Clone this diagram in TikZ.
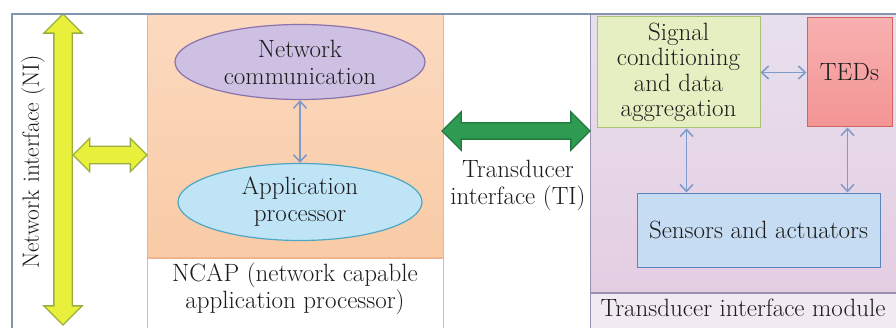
\documentclass[tikz,border=0pt]{standalone}
\usepackage{xcolor}
\usepackage{tikz}
\usetikzlibrary{shapes.geometric, shapes.arrows, arrows.meta}
\usetikzlibrary{calc,positioning}

\definecolor{framec}{HTML}{8494AC}
\definecolor{textc}{HTML}{1C1C1C}
\definecolor{peachtop}{HTML}{FCD9BF}
\definecolor{peachbot}{HTML}{F9CBA6}
\definecolor{peachline}{HTML}{F0B48C}
\definecolor{ncfill}{HTML}{CEC0E2}
\definecolor{ncline}{HTML}{8A72AE}
\definecolor{apfill}{HTML}{BEE4F6}
\definecolor{apline}{HTML}{4FA6C4}
\definecolor{niyellow}{HTML}{E8F03C}
\definecolor{niolive}{HTML}{9AAE40}
\definecolor{tigreen}{HTML}{2E9A52}
\definecolor{tidark}{HTML}{22783E}
\definecolor{timtop}{HTML}{E8E0EE}
\definecolor{timbot}{HTML}{E4CDE2}
\definecolor{timline}{HTML}{9C90B2}
\definecolor{timstrip}{HTML}{F2EAF2}
\definecolor{sigfill}{HTML}{E6EFC2}
\definecolor{sigline}{HTML}{AAC276}
\definecolor{tedtop}{HTML}{F8B0B0}
\definecolor{tedbot}{HTML}{F39494}
\definecolor{tedline}{HTML}{D06464}
\definecolor{senfill}{HTML}{C6DCF2}
\definecolor{senline}{HTML}{5A84BC}
\definecolor{linkc}{HTML}{7E9CCA}

\tikzset{
    txt/.style={font=\fontsize{25}{27}\selectfont, text=textc, align=center},
    box/.style={rectangle, inner sep=0pt, line width=1pt},
    ell/.style={ellipse, inner sep=0pt, line width=1.2pt, txt},
    link/.style={draw=linkc, line width=1.6pt,
        {Straight Barb[length=7pt,width=13pt]}-{Straight Barb[length=7pt,width=13pt]}},
    bigarrow/.style={double arrow, draw, line width=1.4pt, inner xsep=0pt},
}

\begin{document}
\begin{tikzpicture}[x=1pt,y=1pt]

    \useasboundingbox (0,0) rectangle (896,327);
    \clip (0,0) rectangle (896,327);

    % NCAP
    \node[box, draw=peachline, top color=peachtop, bottom color=peachbot,
        minimum width=296pt, minimum height=243pt] (ncap) at (295,191.5) {};
    \node[box, draw=peachline, fill=white, anchor=north,
        minimum width=296pt, minimum height=80pt] (ncapl) at (ncap.south) {};
    \node[txt] (ncapt) at ($(ncapl.north)+(0,-31)$) {NCAP (network capable\\application processor)};

    \node[ell, draw=ncline, fill=ncfill, minimum width=250pt, minimum height=75pt]
        (nc) at (300,265) {Network\\communication};
    \node[ell, draw=apline, fill=apfill, minimum width=244pt, minimum height=77pt]
        (ap) at (300,125) {Application\\processor};
    \draw[link] (nc) -- (ap);

    % Transducer interface module
    \node[box, draw=timline, top color=timtop, bottom color=timbot,
        minimum width=306pt, minimum height=278pt] (tim) at (743,174) {};
    \node[box, draw=timline, fill=timstrip, anchor=north,
        minimum width=306pt, minimum height=40pt] (tims) at (tim.south) {};
    \node[txt] (timt) at ($(tim.south)+(0,-15)$) {Transducer interface module};

    \node[box, draw=sigline, fill=sigfill, minimum width=163pt, minimum height=111pt,
        txt, font=\fontsize{25}{25.5}\selectfont] (sig) at (678.5,254.5)
        {Signal\\conditioning\\and data\\aggregation};
    \node[box, draw=tedline, top color=tedtop, bottom color=tedbot,
        minimum width=85pt, minimum height=109pt, txt] (ted) at (849.5,254.5) {TEDs};
    \node[box, draw=senline, fill=senfill, minimum width=243pt, minimum height=74pt,
        txt] (sen) at (758.5,97) {Sensors and actuators};

    \draw[link] (sig) -- (ted);
    \draw[link] ([xshift=8pt]sig.south) -- ([xshift=8pt]sig.south |- sen.north);
    \draw[link] ([xshift=-2pt]ted.south) -- ([xshift=-2pt]ted.south |- sen.north);

    % Interfaces
    \node[bigarrow, draw=niolive, fill=niyellow, rotate=90, minimum height=311pt,
        inner ysep=8.5pt, double arrow head extend=10pt] (ni) at (63,157.5) {};
    \node[txt, font=\fontsize{23.5}{26}\selectfont, rotate=90] (nil) at (33,165)
        {Network interface (NI)};
    \node[bigarrow, draw=niolive, fill=niyellow, minimum height=74pt,
        inner ysep=8pt, double arrow head extend=8pt] (nia) at (110,172) {};
    \node[bigarrow, draw=tidark, fill=tigreen, minimum height=148pt,
        inner ysep=7.5pt, double arrow head extend=11pt] (tia) at (516,196) {};
    \node[txt] (til) at (518,142) {Transducer\\interface (TI)};

    % Frame
    \draw[framec, line width=1.5pt] (12,-2) -- (12,313) -- (898,313);

\end{tikzpicture}
\end{document}
